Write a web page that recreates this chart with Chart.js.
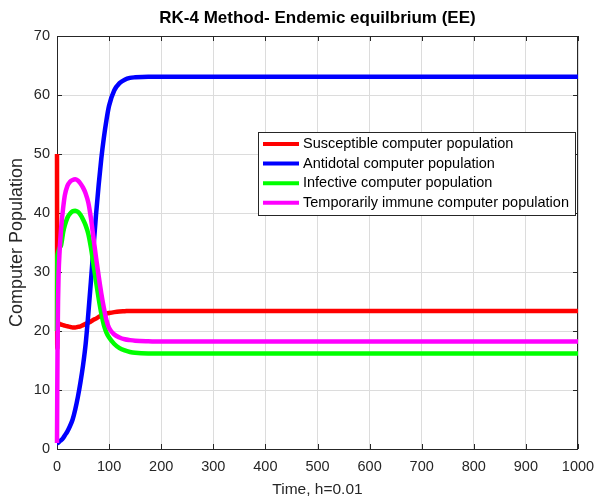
<!DOCTYPE html>
<html lang="en">
<head>
<meta charset="UTF-8">
<title>RK-4 Method- Endemic equilbrium (EE)</title>
<script src="https://cdn.jsdelivr.net/npm/chart.js"></script>
<style>
    body { margin: 0; background: #fff; }
    #wrap { position: relative; width: 597px; height: 500px; }
</style>
</head>
<body>
<div id="wrap"><canvas id="chart" width="597" height="500"></canvas></div>
<script>
// time samples (denser near t = 0)
const tiempo = [0, 0.5, 1, 2, 3, 5, 8, 12, 15, 20, 25, 30, 35, 40, 45, 50, 55, 60, 65, 70, 75, 80, 85, 90, 95, 100, 110, 120, 130, 140, 150, 175, 200, 300, 400, 500, 600, 700, 800, 900, 1000];

const susceptible = [50, 17, 20.5, 21.3, 21.3, 21.2, 21.1, 21.0, 20.9, 20.8, 20.7, 20.6, 20.6, 20.7, 20.8, 21.0, 21.2, 21.4, 21.6, 21.9, 22.1, 22.4, 22.6, 22.8, 22.95, 23.05, 23.2, 23.3, 23.35, 23.4, 23.4, 23.4, 23.4, 23.4, 23.4, 23.4, 23.4, 23.4, 23.4, 23.4, 23.4];
const antidotal = [1, 1, 1, 1.05, 1.1, 1.3, 1.5, 1.9, 2.3, 3.0, 3.9, 5.0, 6.7, 8.8, 11.3, 14.2, 17.8, 22.8, 28.3, 34.2, 39.8, 44.8, 49.2, 52.8, 55.8, 58.2, 60.8, 62.0, 62.6, 62.9, 63.0, 63.1, 63.1, 63.1, 63.1, 63.1, 63.1, 63.1, 63.1, 63.1, 63.1];
const infective = [20, 32, 33, 33.3, 33.6, 34.1, 34.6, 36.8, 37.9, 39.2, 39.9, 40.3, 40.4, 40.2, 39.7, 38.9, 37.9, 36.5, 34.2, 31.3, 28.3, 25.5, 23.0, 21.0, 19.7, 18.9, 17.8, 17.1, 16.7, 16.45, 16.3, 16.2, 16.2, 16.2, 16.2, 16.2, 16.2, 16.2, 16.2, 16.2, 16.2];
const inmune = [1, 10, 17, 25, 29.5, 33.5, 37.5, 41, 43, 44.6, 45.3, 45.6, 45.7, 45.5, 45.0, 44.3, 43.3, 41.8, 39.2, 35.8, 32.4, 29.3, 26.4, 23.9, 21.8, 20.5, 19.4, 18.9, 18.6, 18.45, 18.35, 18.25, 18.2, 18.2, 18.2, 18.2, 18.2, 18.2, 18.2, 18.2, 18.2];

const nombres = ['Susceptible computer population', 'Antidotal computer population', 'Infective computer population', 'Temporarily immune computer population'];
const colores = ['#ff0000', '#0000ff', '#00ff00', '#ff00ff'];
const series = [susceptible, antidotal, infective, inmune];

const xTicks = [0, 100, 200, 300, 400, 500, 600, 700, 800, 900, 1000];
const yTicks = [0, 10, 20, 30, 40, 50, 60, 70];

const fuente = '"Liberation Sans", Arial, Helvetica, sans-serif';
const gris = '#262626';

// dataset 0 is drawn on top in Chart.js, so put the last series first (like MATLAB)
const datasets = series.map((vals, i) => ({
    label: nombres[i],
    data: vals.map((v, k) => ({ x: tiempo[k], y: v })),
    borderColor: colores[i],
    backgroundColor: colores[i],
    borderWidth: 4.5,
    pointRadius: 0,
    cubicInterpolationMode: 'monotone',
    borderJoinStyle: 'round',
    clip: 5
})).reverse();

const marco = {
    id: 'marco',
    beforeDatasetsDraw(chart) {
        const { ctx, chartArea: a, scales } = chart;
        ctx.save();
        ctx.strokeStyle = gris;
        ctx.lineWidth = 1;
        ctx.strokeRect(a.left + 0.5, a.top + 0.5, a.right - a.left - 1, a.bottom - a.top);
        ctx.beginPath();
        xTicks.forEach(t => {
            const x = Math.round(scales.x.getPixelForValue(t)) + 0.5;
            ctx.moveTo(x, a.bottom); ctx.lineTo(x, a.bottom - 5);
            ctx.moveTo(x, a.top); ctx.lineTo(x, a.top + 5);
        });
        yTicks.forEach(t => {
            const y = Math.round(scales.y.getPixelForValue(t)) + 0.5;
            ctx.moveTo(a.left, y); ctx.lineTo(a.left + 5, y);
            ctx.moveTo(a.right, y); ctx.lineTo(a.right - 5, y);
        });
        ctx.stroke();
        ctx.restore();
    },
    afterDraw(chart) {
        const { ctx, chartArea: a } = chart;
        ctx.save();
        // title
        ctx.fillStyle = '#000';
        ctx.font = 'bold 17px ' + fuente;
        ctx.textAlign = 'center';
        ctx.textBaseline = 'middle';
        ctx.fillText('RK-4 Method- Endemic equilbrium (EE)', (a.left + a.right) / 2, 18);

        // legend box
        const lx = 258, ly = 132, lw = 317, lh = 83;
        ctx.fillStyle = '#fff';
        ctx.fillRect(lx, ly, lw, lh);
        ctx.strokeStyle = gris;
        ctx.lineWidth = 1;
        ctx.strokeRect(lx + 0.5, ly + 0.5, lw, lh);
        ctx.font = '14.5px ' + fuente;
        ctx.textAlign = 'left';
        nombres.forEach((n, i) => {
            const y = 144 + i * 19.6;
            ctx.strokeStyle = colores[i];
            ctx.lineWidth = 4;
            ctx.beginPath();
            ctx.moveTo(263, y); ctx.lineTo(299, y);
            ctx.stroke();
            ctx.fillStyle = '#000';
            ctx.fillText(n, 303, y);
        });
        ctx.restore();
    }
};

new Chart(document.getElementById('chart'), {
    type: 'line',
    data: { datasets },
    options: {
        responsive: false,
        animation: false,
        layout: { padding: { top: 36, right: 19, left: 0, bottom: 0 } },
        plugins: {
            legend: { display: false },
            title: { display: false },
            tooltip: { enabled: false }
        },
        scales: {
            x: {
                type: 'linear',
                min: 0,
                max: 1000,
                afterFit: s => { s.height = 51; s.paddingLeft = 0; s.paddingRight = 0; },
                afterBuildTicks: s => { s.ticks = xTicks.map(v => ({ value: v })); },
                ticks: { color: gris, font: { family: fuente, size: 14.5 }, padding: 9, maxRotation: 0, callback: v => String(v) },
                grid: { color: '#dcdcdc', drawTicks: false },
                border: { display: false },
                title: { display: true, text: 'Time, h=0.01', color: gris, font: { family: fuente, size: 15.5 }, padding: { top: 0, bottom: 1 } }
            },
            y: {
                min: 0,
                max: 70,
                afterFit: s => { s.width = 57; s.paddingTop = 0; s.paddingBottom = 0; },
                afterBuildTicks: s => { s.ticks = yTicks.map(v => ({ value: v })); },
                ticks: { color: gris, font: { family: fuente, size: 14.5 }, padding: 7, callback: v => String(v) },
                grid: { color: '#dcdcdc', drawTicks: false },
                border: { display: false },
                title: { display: true, text: 'Computer Population', color: gris, font: { family: fuente, size: 18 }, padding: { top: 6, bottom: 0 } }
            }
        }
    },
    plugins: [marco]
});
</script>
</body>
</html>
